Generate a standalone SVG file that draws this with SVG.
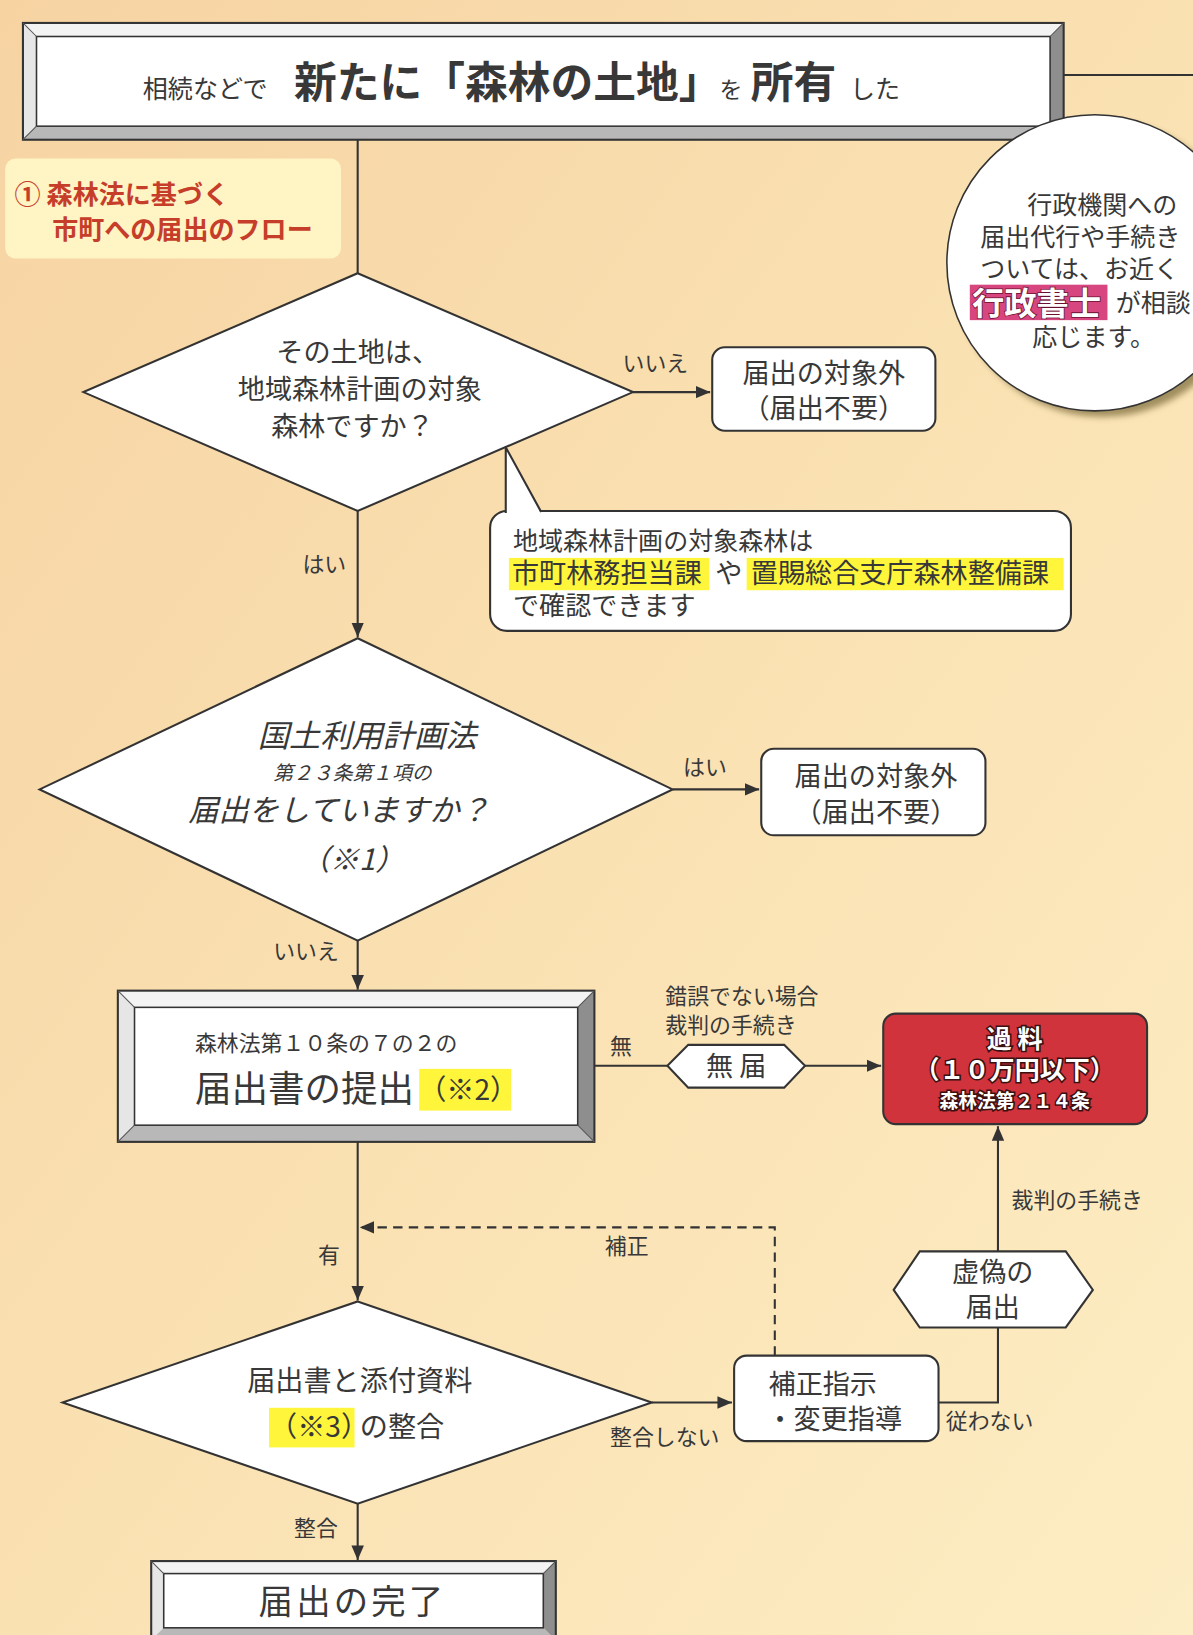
<svg xmlns="http://www.w3.org/2000/svg" width="1193" height="1635" viewBox="0 0 1193 1635">
<defs>
<linearGradient id="bg" x1="0" y1="0" x2="1" y2="1">
<stop offset="0" stop-color="#F7D3A2"/>
<stop offset="0.5" stop-color="#FAE1B2"/>
<stop offset="1" stop-color="#FDEDC4"/>
</linearGradient>
<filter id="blur" x="-20%" y="-20%" width="140%" height="140%"><feGaussianBlur stdDeviation="3"/></filter>
<marker id="arr" markerWidth="14" markerHeight="12" refX="14" refY="6" orient="auto" markerUnits="userSpaceOnUse">
<path d="M0,0 L14,6 L0,12 z" fill="#333"/>
</marker>
<style>
text{font-family:"Noto Sans CJK JP","Noto Sans",sans-serif;fill:#383838}
.ln{stroke:#333;stroke-width:2;fill:none}
.nd{fill:#fff;stroke:#333;stroke-width:2}
.lbl{font-size:21px}
.t26{font-size:26px}
.t24{font-size:24px}
.mid{text-anchor:middle}
.bt{fill:#F3F3F3}.bl{fill:#E6E6E6}.br{fill:#8E8E8E}.bb{fill:#B8B8B8}
.hl{fill:#FFF53A}
.red{font-weight:bold;fill:#C63E2A;font-size:25px}
.wt{fill:#fff;stroke:#3a1010;stroke-width:3;paint-order:stroke;font-weight:bold}
</style>
</defs>
<rect x="0" y="0" width="1193" height="1635" fill="url(#bg)"/>
<g transform="scale(1.0428)">

<g id="connectors">
<path class="ln" d="M1020,72 H1150"/>
<path class="ln" d="M343,134 V262"/>
<path class="ln" d="M607,376 H681" marker-end="url(#arr)"/>
<path class="ln" d="M343,490 V611" marker-end="url(#arr)"/>
<path class="ln" d="M645,757 H728" marker-end="url(#arr)"/>
<path class="ln" d="M343,902 V949" marker-end="url(#arr)"/>
<path class="ln" d="M570,1022 H640"/>
<path class="ln" d="M772,1022 H845" marker-end="url(#arr)"/>
<path class="ln" d="M343,1095 V1247" marker-end="url(#arr)"/>
<path class="ln" d="M743,1300 V1177 H345" stroke-dasharray="9,6" marker-end="url(#arr)"/>
<path class="ln" d="M625,1345 H702" marker-end="url(#arr)"/>
<path class="ln" d="M900,1345 H957 V1273"/>
<path class="ln" d="M957,1200 V1080" marker-end="url(#arr)"/>
<path class="ln" d="M343,1442 V1496" marker-end="url(#arr)"/>
<text class="lbl" x="597" y="356">いいえ</text>
<text class="lbl" x="290" y="549">はい</text>
<text class="lbl" x="655" y="743">はい</text>
<text class="lbl" x="262" y="920">いいえ</text>
<text class="lbl" x="585" y="1011">無</text>
<text class="lbl" x="638" y="963">錯誤でない場合</text>
<text class="lbl" x="638" y="991">裁判の手続き</text>
<text class="lbl" x="970" y="1158">裁判の手続き</text>
<text class="lbl" x="305" y="1211">有</text>
<text class="lbl" x="580" y="1203">補正</text>
<text class="lbl" x="585" y="1386">整合しない</text>
<text class="lbl" x="907" y="1370">従わない</text>
<text class="lbl" x="282" y="1473">整合</text>
</g>

<g id="start">
<polygon class="bt" points="22,22 1020,22 1007,35 35,35"/>
<polygon class="bl" points="22,22 35,35 35,121 22,134"/>
<polygon class="br" points="1020,22 1020,134 1007,121 1007,35"/>
<polygon class="bb" points="22,134 1020,134 1007,121 35,121"/>
<rect x="35" y="35" width="972" height="86" fill="#fff" stroke="#333" stroke-width="1.5"/>
<rect x="22" y="22" width="998" height="112" fill="none" stroke="#333" stroke-width="2"/>
<path d="M22,22 L35,35 M1020,22 L1007,35 M22,134 L35,121 M1020,134 L1007,121" stroke="#555" stroke-width="1"/>
<text y="94"><tspan x="137" font-size="24">相続などで</tspan><tspan x="282" font-size="41" font-weight="bold">新たに「森林の土地」</tspan><tspan x="690" font-size="22">を</tspan><tspan x="720" font-size="41" font-weight="bold">所有</tspan><tspan x="815" font-size="24">した</tspan></text>
</g>

<g id="title-label">
<rect x="5" y="152" width="322" height="96" rx="10" fill="#FFF4C4"/>
<text class="red" x="14" y="196">① 森林法に基づく</text>
<text class="red" x="50" y="229">市町への届出のフロー</text>
</g>

<g id="advice-circle">
<circle cx="1057" cy="258" r="142" fill="#7a6a3a" opacity="0.7" filter="url(#blur)"/>
<circle cx="1050" cy="252" r="142" fill="#fff" stroke="#333" stroke-width="1.5"/>
<text class="t24" x="985" y="205">行政機関への</text>
<text class="t24" x="940" y="236">届出代行や手続き</text>
<text class="t24" x="940" y="267">ついては、お近く</text>
<rect x="930" y="273" width="132" height="34" fill="#D7467F"/>
<text x="932" y="302" font-size="31" class="wt" style="stroke:#6a1030;stroke-width:1.5">行政書士</text>
<text class="t24" x="1070" y="299">が相談</text>
<text class="t24" x="990" y="332">応じます。</text>
</g>

<g id="q1">
<polygon class="nd" points="343,262 607,376 343,490 80,376"/>
<text class="t26 mid" x="343" y="347">その土地は、</text>
<text class="t26 mid" x="345" y="383">地域森林計画の対象</text>
<text class="t26 mid" x="338" y="418">森林ですか？</text>
</g>

<g id="out1">
<rect class="nd" x="683" y="333" width="214" height="80" rx="12"/>
<text class="t26 mid" x="790" y="367">届出の対象外</text>
<text class="t26 mid" x="790" y="401">（届出不要）</text>
</g>

<g id="callout">
<rect class="nd" x="470" y="490" width="557" height="115" rx="16"/>
<polygon points="485,429 485,493 519,493" fill="#fff"/>
<path d="M485,492 L485,429 L519,491" fill="none" stroke="#333" stroke-width="2"/>
<text class="t24" x="492" y="527">地域森林計画の対象森林は</text>
<rect class="hl" x="488" y="535" width="192" height="31"/>
<rect class="hl" x="716" y="535" width="304" height="31"/>
<text font-size="26" y="559"><tspan x="491">市町林務担当課</tspan><tspan x="686">や</tspan><tspan x="720">置賜総合支庁森林整備課</tspan></text>
<text font-size="25" x="492" y="590">で確認できます</text>
</g>

<g id="q2">
<polygon class="nd" points="343,612 645,757 343,902 38,757"/>
<text class="mid" x="352" y="716" font-size="30" font-style="italic">国土利用計画法</text>
<text class="mid" x="338" y="748" font-size="19" font-style="italic">第２３条第１項の</text>
<text class="mid" x="325" y="787" font-size="29" font-style="italic">届出をしていますか？</text>
<text class="mid" x="338" y="834" font-size="28" font-style="italic">（※1）</text>
</g>

<g id="out2">
<rect class="nd" x="730" y="718" width="215" height="83" rx="12"/>
<text class="t26 mid" x="840" y="754">届出の対象外</text>
<text class="t26 mid" x="840" y="788">（届出不要）</text>
</g>

<g id="submit">
<polygon class="bt" points="113,950 570,950 554,966 129,966"/>
<polygon class="bl" points="113,950 129,966 129,1079 113,1095"/>
<polygon class="br" points="570,950 570,1095 554,1079 554,966"/>
<polygon class="bb" points="113,1095 570,1095 554,1079 129,1079"/>
<rect x="129" y="966" width="425" height="113" fill="#fff" stroke="#333" stroke-width="1.5"/>
<rect x="113" y="950" width="457" height="145" fill="none" stroke="#333" stroke-width="2"/>
<path d="M113,950 L129,966 M570,950 L554,966 M113,1095 L129,1079 M570,1095 L554,1079" stroke="#555" stroke-width="1"/>
<text x="187" y="1008" font-size="21">森林法第１０条の７の２の</text>
<rect class="hl" x="402" y="1025" width="88" height="40"/>
<text x="187" y="1057" font-size="35">届出書の提出</text>
<text x="401" y="1055" font-size="27">（※2）</text>
</g>

<g id="no-filing">
<polygon class="nd" points="640,1022 660,1002 752,1002 772,1022 752,1043 660,1043"/>
<text class="t26 mid" x="706" y="1032">無 届</text>
</g>

<g id="fine">
<rect x="847" y="972" width="253" height="106" rx="12" fill="#D1333C" stroke="#333" stroke-width="2"/>
<text class="wt mid" x="973" y="1005" font-size="24">過 料</text>
<text class="wt mid" x="973" y="1035" font-size="24">（１０万円以下）</text>
<text class="wt mid" x="973" y="1063" font-size="18">森林法第２１４条</text>
</g>

<g id="false-filing">
<polygon class="nd" points="857,1237 882,1200 1022,1200 1048,1237 1022,1273 882,1273"/>
<text class="t26 mid" x="952" y="1229">虚偽の</text>
<text class="t26 mid" x="952" y="1263">届出</text>
</g>

<g id="correction">
<rect class="nd" x="704" y="1300" width="196" height="82" rx="12"/>
<text class="t26" x="737" y="1337">補正指示</text>
<text class="t26" x="735" y="1370">・変更指導</text>
</g>

<g id="q3">
<polygon class="nd" points="343,1248 625,1345 343,1442 60,1345"/>
<text class="mid" x="345" y="1334" font-size="27">届出書と添付資料</text>
<rect class="hl" x="258" y="1350" width="82" height="38"/>
<text x="258" y="1378" font-size="27">（※3）</text>
<text x="345" y="1378" font-size="27">の整合</text>
</g>

<g id="complete">
<polygon class="bt" points="145,1497 533,1497 521,1509 157,1509"/>
<polygon class="bl" points="145,1497 157,1509 157,1561 145,1573"/>
<polygon class="br" points="533,1497 533,1573 521,1561 521,1509"/>
<polygon class="bb" points="145,1573 533,1573 521,1561 157,1561"/>
<rect x="157" y="1509" width="364" height="52" fill="#fff" stroke="#333" stroke-width="1.5"/>
<rect x="145" y="1497" width="388" height="76" fill="none" stroke="#333" stroke-width="2"/>
<path d="M145,1497 L157,1509 M533,1497 L521,1509" stroke="#555" stroke-width="1"/>
<text class="mid" x="338" y="1548" font-size="33" letter-spacing="3">届出の完了</text>
</g>
</g>
</svg>
